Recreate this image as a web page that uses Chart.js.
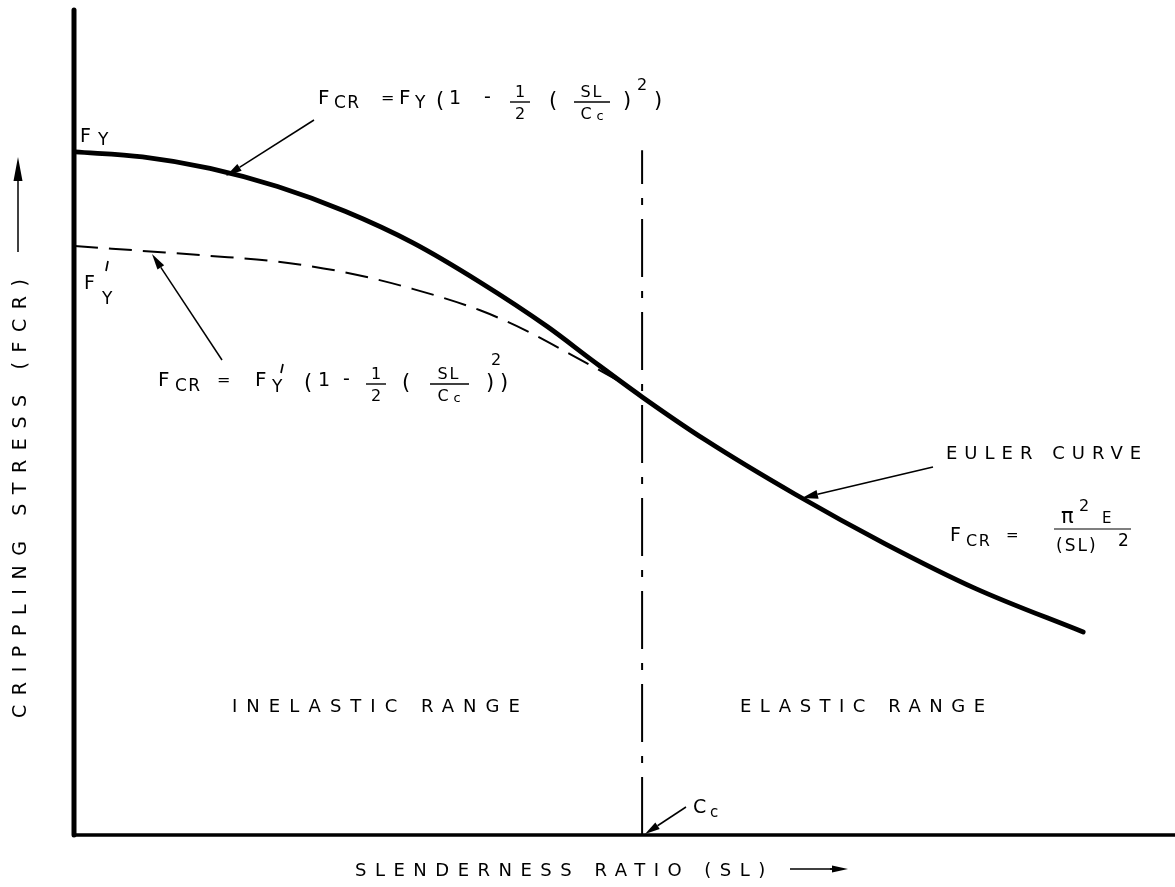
<!DOCTYPE html>
<html>
<head>
<meta charset="utf-8">
<script src="https://cdn.jsdelivr.net/npm/chart.js@4.4.1/dist/chart.umd.min.js"></script>
<style>
  html, body { margin: 0; padding: 0; background: #fff; }
  #wrap { width: 1175px; height: 887px; }
</style>
</head>
<body>
<div id="wrap"><canvas id="c" width="1175" height="887"></canvas></div>
<script>
// Slenderness ratio (SL) and crippling stress (FCR), in arbitrary plot units
const SL_MAIN = [0, 15, 30, 45, 60, 75, 90, 105, 115, 126, 140, 160, 180, 200, 224];
const FCR_MAIN = [82.8, 82.2, 80.8, 78.6, 75.6, 71.8, 67.0, 61.6, 57.5, 53.1, 47.9, 41.3, 35.3, 29.9, 24.6];

// Reduced-yield parabola (F'Y), runs into the main curve just before Cc
const SL_REDUCED = [0, 15, 30, 45, 60, 75, 90, 100, 110, 118, 122];
const FCR_REDUCED = [71.4, 70.8, 70.2, 69.5, 68.2, 66.2, 63.6, 61.2, 58.3, 55.9, 54.7];

// Transition slenderness Cc and the top of its marker line
const CC = 126;
const CC_TOP = 83;

const X_MAX = 244.4;
const Y_MAX = 100;

const FONT = '"DejaVu Sans", "Liberation Sans", sans-serif';

function pts(xs, ys) { return xs.map((x, i) => ({ x: x, y: ys[i] })); }

function txt(ctx, s, x, y, size, spacing, align) {
  ctx.save();
  ctx.font = size + 'px ' + FONT;
  ctx.letterSpacing = (spacing || 0) + 'px';
  ctx.textAlign = align || 'left';
  ctx.textBaseline = 'alphabetic';
  ctx.fillStyle = '#000';
  ctx.fillText(s, x, y);
  ctx.restore();
}

function hline(ctx, x1, x2, y, w) {
  ctx.save();
  ctx.strokeStyle = '#000';
  ctx.lineWidth = w || 1.4;
  ctx.beginPath();
  ctx.moveTo(x1, y);
  ctx.lineTo(x2, y);
  ctx.stroke();
  ctx.restore();
}

function tick(ctx, x1, y1, x2, y2) {
  ctx.save();
  ctx.strokeStyle = '#000';
  ctx.lineWidth = 1.7;
  ctx.beginPath();
  ctx.moveTo(x1, y1);
  ctx.lineTo(x2, y2);
  ctx.stroke();
  ctx.restore();
}

function arrow(ctx, x1, y1, x2, y2, len, half, lw) {
  len = len || 14; half = half || 3.8; lw = lw || 1.5;
  const a = Math.atan2(y2 - y1, x2 - x1);
  const bx = x2 - len * Math.cos(a), by = y2 - len * Math.sin(a);
  ctx.save();
  ctx.strokeStyle = '#000';
  ctx.fillStyle = '#000';
  ctx.lineWidth = lw;
  ctx.beginPath();
  ctx.moveTo(x1, y1);
  ctx.lineTo(bx, by);
  ctx.stroke();
  ctx.beginPath();
  ctx.moveTo(x2, y2);
  ctx.lineTo(bx + half * Math.sin(a), by - half * Math.cos(a));
  ctx.lineTo(bx - half * Math.sin(a), by + half * Math.cos(a));
  ctx.closePath();
  ctx.fill();
  ctx.restore();
}

// Axes drawn as heavy ink strokes, like the hand-drafted frame
const frame = {
  id: 'frame',
  beforeDatasetsDraw(chart) {
    const ctx = chart.ctx, x = chart.scales.x, y = chart.scales.y;
    const x0 = x.getPixelForValue(0), y0 = y.getPixelForValue(0);
    ctx.save();
    ctx.strokeStyle = '#000';
    ctx.lineCap = 'round';
    ctx.lineWidth = 5;
    ctx.beginPath();
    ctx.moveTo(x0 - 1, y.getPixelForValue(Y_MAX));
    ctx.lineTo(x0 - 1, y0);
    ctx.stroke();
    ctx.lineWidth = 3.5;
    ctx.beginPath();
    ctx.moveTo(x0 - 1, y0);
    ctx.lineTo(x.getPixelForValue(X_MAX) + 5, y0);
    ctx.stroke();
    ctx.restore();
  }
};

// Lettering, formulas and leader arrows
const notes = {
  id: 'notes',
  afterDraw(chart) {
    const ctx = chart.ctx;

    // FY and F'Y at the stress axis
    txt(ctx, 'F', 80, 142, 19);
    txt(ctx, 'Y', 98, 145, 17);
    txt(ctx, 'F', 84, 289, 19);
    txt(ctx, 'Y', 102, 304, 17);
    tick(ctx, 108, 261, 106, 271);

    // FCR = FY (1 - 1/2 (SL/Cc)^2)
    let B = 104;
    txt(ctx, 'F', 318, B, 20);
    txt(ctx, 'CR', 334, B + 4, 17, 1.5);
    txt(ctx, '=', 381, B - 1, 16);
    txt(ctx, 'F', 399, B, 20);
    txt(ctx, 'Y', 415, B + 4, 17);
    txt(ctx, '(', 436, B + 3, 21);
    txt(ctx, '1', 449, B, 19);
    txt(ctx, '-', 484, B - 1, 19);
    txt(ctx, '1', 520, B - 7, 16, 0, 'center');
    hline(ctx, 510, 530, B - 2);
    txt(ctx, '2', 520, B + 15, 16, 0, 'center');
    txt(ctx, '(', 549, B + 3, 21);
    txt(ctx, 'SL', 592, B - 7, 16, 2, 'center');
    hline(ctx, 574, 610, B - 2);
    txt(ctx, 'C', 586, B + 15, 16, 0, 'center');
    txt(ctx, 'c', 600, B + 16, 13, 0, 'center');
    txt(ctx, ')', 623, B + 3, 21);
    txt(ctx, '2', 637, B - 14, 16);
    txt(ctx, ')', 654, B + 3, 21);
    arrow(ctx, 314, 120, 226, 176, 16, 4);

    // FCR = F'Y (1 - 1/2 (SL/Cc)^2)
    B = 386;
    txt(ctx, 'F', 158, B, 20);
    txt(ctx, 'CR', 175, B + 5, 17, 1.5);
    txt(ctx, '=', 217, B - 1, 16);
    txt(ctx, 'F', 255, B, 20);
    txt(ctx, 'Y', 272, B + 6, 17);
    tick(ctx, 283, 364, 281, 373);
    txt(ctx, '(', 304, B + 3, 21);
    txt(ctx, '1', 318, B, 19);
    txt(ctx, '-', 343, B - 1, 19);
    txt(ctx, '1', 376, B - 7, 16, 0, 'center');
    hline(ctx, 366, 386, B - 2);
    txt(ctx, '2', 376, B + 15, 16, 0, 'center');
    txt(ctx, '(', 402, B + 3, 21);
    txt(ctx, 'SL', 449, B - 7, 16, 2, 'center');
    hline(ctx, 430, 469, B - 2);
    txt(ctx, 'C', 443, B + 15, 16, 0, 'center');
    txt(ctx, 'c', 457, B + 16, 13, 0, 'center');
    txt(ctx, '2', 491, B - 21, 16);
    txt(ctx, ')', 486, B + 3, 21);
    txt(ctx, ')', 500, B + 3, 21);
    arrow(ctx, 222, 360, 152, 254, 16, 4);

    // Euler curve
    txt(ctx, 'EULER CURVE', 946, 459, 18, 7);
    arrow(ctx, 933, 467, 802, 498, 16, 4.5, 1.6);
    txt(ctx, 'F', 950, 541, 19);
    txt(ctx, 'CR', 966, 546, 16, 1.5);
    txt(ctx, '=', 1006, 540, 15);
    txt(ctx, '\u03C0', 1061, 523, 21);
    txt(ctx, '2', 1079, 511, 16);
    txt(ctx, 'E', 1102, 523, 15);
    hline(ctx, 1054, 1131, 529, 1.2);
    txt(ctx, '(SL)', 1056, 551, 17, 2);
    txt(ctx, '2', 1118, 546, 17);

    // Ranges
    txt(ctx, 'INELASTIC RANGE', 232, 712, 18, 9);
    txt(ctx, 'ELASTIC RANGE', 740, 712, 18, 8.5);

    // Cc marker
    txt(ctx, 'C', 693, 813, 19);
    txt(ctx, 'c', 710, 817, 15);
    arrow(ctx, 686, 807, 645, 834, 15, 4);

    // Axis titles
    txt(ctx, 'SLENDERNESS RATIO (SL)', 355, 876, 18, 8.5);
    hline(ctx, 790, 832, 869, 1.4);
    arrow(ctx, 830, 869, 848, 869, 16, 3.5, 1.4);

    ctx.save();
    ctx.translate(26, 718);
    ctx.rotate(-Math.PI / 2);
    txt(ctx, 'CRIPPLING STRESS (FCR)', 0, 0, 19, 9.6);
    ctx.restore();
    arrow(ctx, 18, 252, 18, 157, 24, 4.5, 1.5);
  }
};

new Chart(document.getElementById('c'), {
  type: 'line',
  data: {
    datasets: [
      {
        data: pts(SL_MAIN, FCR_MAIN),
        borderColor: '#000',
        borderWidth: 4.8,
        cubicInterpolationMode: 'monotone',
        borderCapStyle: 'round',
        pointRadius: 0
      },
      {
        data: pts(SL_REDUCED, FCR_REDUCED),
        borderColor: '#000',
        borderWidth: 2,
        borderDash: [23, 11],
        cubicInterpolationMode: 'monotone',
        pointRadius: 0
      },
      {
        data: [{ x: CC, y: 0 }, { x: CC, y: CC_TOP }],
        borderColor: '#000',
        borderWidth: 2,
        borderDash: [58, 14, 7, 14],
        pointRadius: 0
      }
    ]
  },
  options: {
    responsive: false,
    animation: false,
    layout: { padding: { left: 75, top: 10, right: 0, bottom: 52 } },
    scales: {
      x: { type: 'linear', min: 0, max: X_MAX, display: false },
      y: { type: 'linear', min: 0, max: Y_MAX, display: false }
    },
    plugins: { legend: { display: false }, tooltip: { enabled: false } }
  },
  plugins: [frame, notes]
});
</script>
</body>
</html>
